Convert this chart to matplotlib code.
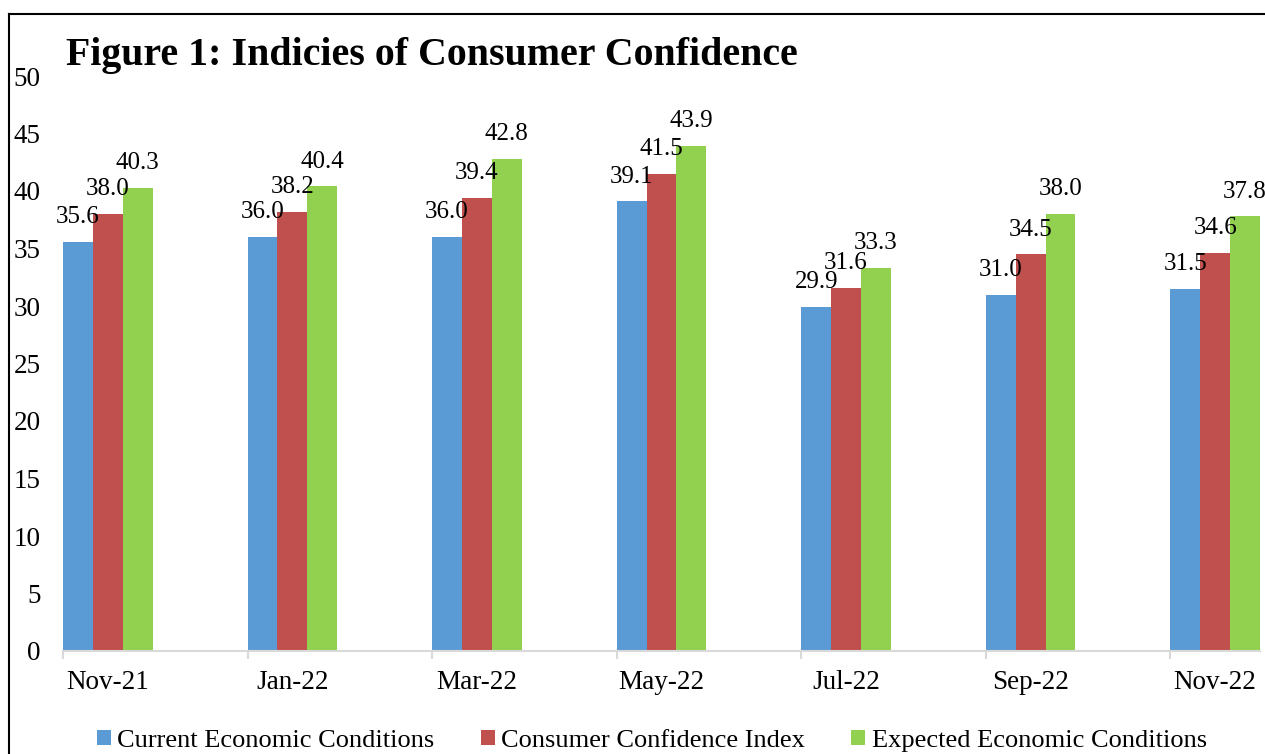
import numpy as np
from matplotlib import pyplot as plt
from matplotlib.patches import Patch
from matplotlib.lines import Line2D

months = ["Nov-21", "Jan-22", "Mar-22", "May-22", "Jul-22", "Sep-22", "Nov-22"]
current = [35.6, 36.0, 36.0, 39.1, 29.9, 31.0, 31.5]
cci = [38.0, 38.2, 39.4, 41.5, 31.6, 34.5, 34.6]
expected = [40.3, 40.4, 42.8, 43.9, 33.3, 38.0, 37.8]

series = [
    ("Current Economic Conditions", current, "#5B9BD5"),
    ("Consumer Confidence Index", cci, "#C0504D"),
    ("Expected Economic Conditions", expected, "#92D050"),
]

plt.rcParams['font.family'] = ['Liberation Serif', 'DejaVu Serif']

fig = plt.figure(figsize=(12.65, 7.54), dpi=100)
ax = fig.add_axes([63 / 1265, 1 - 651 / 754, (1260 - 63) / 1265, (651 - 76) / 754])

x = np.arange(len(months))
w = 0.162
for j, (name, vals, color) in enumerate(series):
    pos = x + (j - 1) * w
    ax.bar(pos, vals, width=w, color=color, edgecolor='none')
    for px, v in zip(pos, vals):
        ax.annotate(f"{v:.1f}", (px, v), xytext=(0, 13.5), textcoords='offset points',
                    ha='center', va='baseline', fontsize=18)

ax.set_xlim(-1.5 * w, len(months) - 1 + 1.5 * w)
ax.set_ylim(0, 50)
ax.set_yticks(range(0, 51, 5))
ax.tick_params(axis='y', length=0, pad=16, labelsize=19.5)
ax.set_xticks(x)
ax.set_xticklabels(months)
ax.tick_params(axis='x', which='major', length=0, pad=14, labelsize=19.5)
ax.set_xticks(x - 1.5 * w, minor=True)
ax.tick_params(axis='x', which='minor', length=6, width=1.5, color='#D9D9D9')

for s in ['top', 'right', 'left']:
    ax.spines[s].set_visible(False)
ax.spines['bottom'].set_color('#D9D9D9')
ax.spines['bottom'].set_linewidth(1.5)

fig.text(66 / 1265, 1 - 55 / 754, "Figure 1: Indicies of Consumer Confidence",
         fontsize=28.7, fontweight='bold', va='center', ha='left')

handles = [Patch(facecolor=c, edgecolor='none', label=n) for n, _, c in series]
fig.legend(handles=handles, loc='center', bbox_to_anchor=(652 / 1265, 1 - 741 / 754),
           ncol=3, frameon=False, fontsize=19, handlelength=0.53, handleheight=0.53,
           handletextpad=0.25, columnspacing=1.75, borderaxespad=0)

# outer frame (top and left edges visible)
fig.add_artist(Line2D([9 / 1265, 9 / 1265], [0, 1 - 14 / 754], color='black', linewidth=1.5))
fig.add_artist(Line2D([9 / 1265, 1], [1 - 14 / 754, 1 - 14 / 754], color='black', linewidth=1.5))

fig.savefig("out.png", dpi=100)
